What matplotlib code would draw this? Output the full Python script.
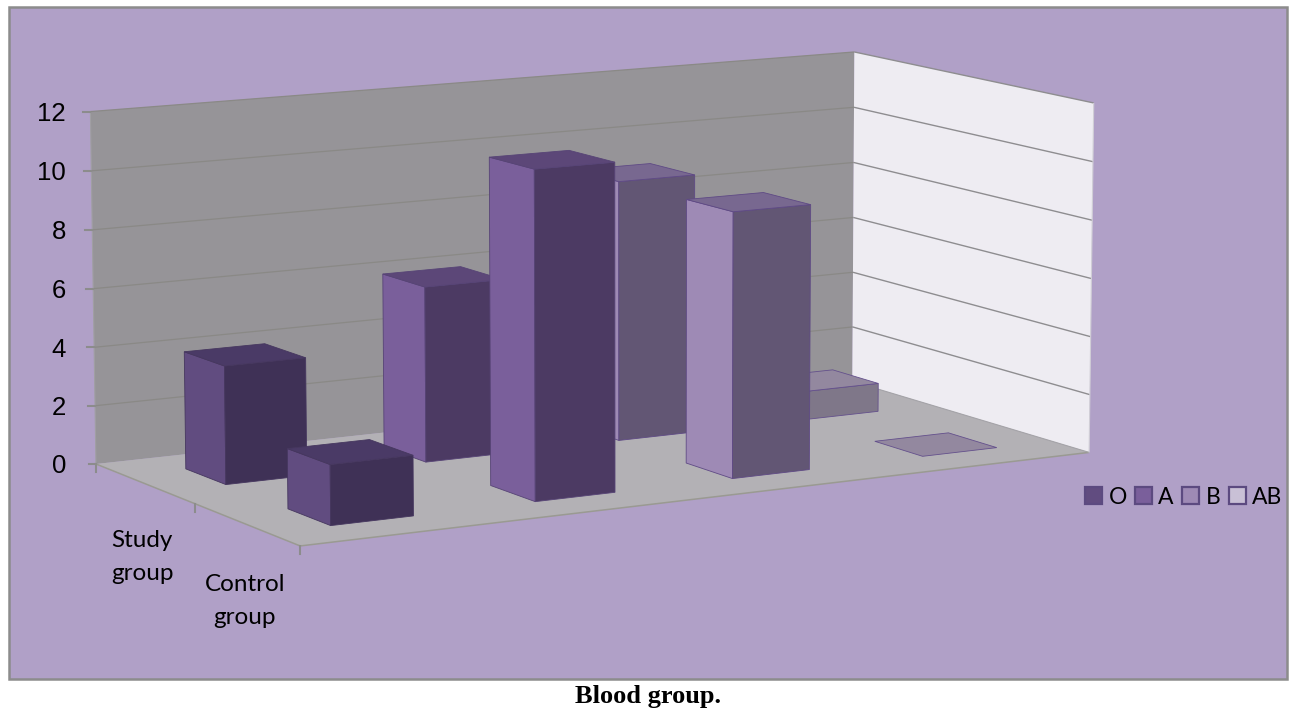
import numpy as np
import matplotlib
matplotlib.use("Agg")
import matplotlib.pyplot as plt
from matplotlib.patches import Polygon, Rectangle, Patch

blood_groups = ["O", "A", "B", "AB"]
study_group = [4, 6, 9, 1]
control_group = [2, 11, 9, 0]
value_ticks = [0, 2, 4, 6, 8, 10, 12]
group_labels = ["Study\ngroup", "Control\ngroup"]
caption = "Blood group."

# left, front, top face colours and edge colour for each blood group
face_colors = {
    "O": ("#614c80", "#3f3156", "#4a3a66", "#46375f"),
    "A": ("#7a5f9b", "#4c3a63", "#5c4778", "#574476"),
    "B": ("#9e8ab5", "#625674", "#786890", "#5f4a85"),
    "AB": ("#aaa0b8", "#7f7789", "#93889f", "#64508c"),
}
legend_colors = {"O": "#614c80", "A": "#7a5f9b", "B": "#9e8ab5", "AB": "#c9c0d6"}

BG = "#b0a0c7"
BACK_WALL = "#969498"
SIDE_WALL = "#eeecf2"
FLOOR = "#b3b1b5"
GRID = "#8a8986"
SIDE_GRID = "#8e8d90"
BORDER = "#8c8c8c"
BAR_HALF = 0.2

# box corners (series, depth, value) and where they land on the canvas
box_world = np.array([
    [0, 2, 0], [0, 2, 12], [4, 2, 12], [4, 2, 0],
    [0, 0, 0], [4, 0, 0], [4, 0, 12],
], dtype=float)
box_canvas = np.array([
    [96, 464], [90.5, 111.5], [854, 51.7], [852.5, 381.7],
    [300, 546], [1089, 452], [1094, 103.3],
], dtype=float)


def fit_camera(world, canvas):
    rows = []
    rhs = []
    for (x, y, z), (u, v) in zip(world, canvas):
        rows.append([x, y, z, 1, 0, 0, 0, 0, -u * x, -u * y, -u * z])
        rows.append([0, 0, 0, 0, x, y, z, 1, -v * x, -v * y, -v * z])
        rhs += [u, v]
    sol = np.linalg.lstsq(np.array(rows), np.array(rhs), rcond=None)[0]
    return np.append(sol, 1).reshape(3, 4)


camera = fit_camera(box_world, box_canvas)


def project(x, y, z):
    p = camera @ np.array([x, y, z, 1.0])
    return p[0] / p[2], p[1] / p[2]


def quad(ax, corners, color, edge="none", lw=0.6, zorder=3):
    pts = [project(*c) for c in corners]
    ax.add_patch(Polygon(pts, closed=True, facecolor=color, edgecolor=edge, linewidth=lw,
                         zorder=zorder))


def segment(ax, a, b, color=GRID, lw=0.9):
    pa, pb = project(*a), project(*b)
    ax.plot([pa[0], pb[0]], [pa[1], pb[1]], color=color, lw=lw, solid_capstyle="butt", zorder=2)


def draw_bar(ax, i, depth, value, colors):
    left, front, top, edge = colors
    x0, x1 = i + 0.5 - BAR_HALF, i + 0.5 + BAR_HALF
    y0, y1 = depth - BAR_HALF, depth + BAR_HALF
    if value > 0:
        quad(ax, [(x0, y1, 0), (x0, y0, 0), (x0, y0, value), (x0, y1, value)], left, edge)
        quad(ax, [(x0, y0, 0), (x1, y0, 0), (x1, y0, value), (x0, y0, value)], front, edge)
    quad(ax, [(x0, y0, value), (x1, y0, value), (x1, y1, value), (x0, y1, value)], top, edge)


fig = plt.figure(figsize=(12.93, 7.13), dpi=100, facecolor="white")
ax = fig.add_axes([0, 0, 1, 1])
ax.set_xlim(0, 1293)
ax.set_ylim(713, 0)
ax.axis("off")

# chart area frame
ax.add_patch(Rectangle((9, 7), 1278, 672, facecolor=BG, edgecolor=BORDER, linewidth=1.8, zorder=0))

# walls and floor
quad(ax, [(0, 2, 0), (4, 2, 0), (4, 2, 12), (0, 2, 12)], BACK_WALL, zorder=1)
quad(ax, [(4, 2, 0), (4, 0, 0), (4, 0, 12), (4, 2, 12)], SIDE_WALL, zorder=1)
quad(ax, [(0, 0, 0), (4, 0, 0), (4, 2, 0), (0, 2, 0)], FLOOR, zorder=1)

for v in value_ticks[1:]:
    segment(ax, (0, 2, v), (4, 2, v))
    segment(ax, (4, 2, v), (4, 0, v), color=SIDE_GRID, lw=1.0)

# box outline along the top of the walls and the front of the floor
segment(ax, (0, 2, 0), (0, 0, 0), color="#9a9a92", lw=1.1)
segment(ax, (0, 0, 0), (4, 0, 0), color="#9a9a92", lw=1.1)
segment(ax, (4, 2, 0), (4, 0, 0), color="#a5a4a8", lw=0.8)
segment(ax, (0, 2, 0), (0, 2, 12), color="#a09fa3", lw=0.8)
segment(ax, (4, 0, 0), (4, 0, 12), color="#d0ced6", lw=0.8)

# value axis ticks and labels
for v in value_ticks:
    px, py = project(0, 2, v)
    ax.plot([px - 7, px], [py, py], color=BORDER, lw=1.5, zorder=2)
    ax.text(66, py, str(v), ha="right", va="center_baseline", fontsize=18.5,
            family="Liberation Sans", color="black")

# depth axis ticks and labels
for d in [2, 1, 0]:
    px, py = project(0, d, 0)
    ax.plot([px, px], [py, py + 8], color=BORDER, lw=1.5, zorder=2)
ax.text(142, 557, group_labels[0], ha="center", va="center", fontsize=17.5, family="Lato",
        linespacing=1.68)
ax.text(245, 601, group_labels[1], ha="center", va="center", fontsize=17.5, family="Lato",
        linespacing=1.68)

# back row first so the front row paints over it
for i in range(len(blood_groups) - 1, -1, -1):
    draw_bar(ax, i, 1.5, study_group[i], face_colors[blood_groups[i]])
for i in range(len(blood_groups) - 1, -1, -1):
    draw_bar(ax, i, 0.5, control_group[i], face_colors[blood_groups[i]])

handles = [Patch(facecolor=legend_colors[g], edgecolor="#5c4a80", linewidth=1.6, label=g)
           for g in blood_groups]
ax.legend(handles=handles, ncol=4, loc="center left", bbox_to_anchor=(1085 / 1293, 1 - 497 / 713),
          frameon=False, handlelength=0.75, handleheight=0.75, handletextpad=0.27,
          columnspacing=0.36, borderpad=0, borderaxespad=0,
          prop={"family": "Lato", "size": 16.5})

ax.text(648, 697, caption, ha="center", va="center", fontsize=19, fontweight="bold",
        family="Liberation Serif")

fig.savefig("out.png", dpi=100, facecolor="white")
